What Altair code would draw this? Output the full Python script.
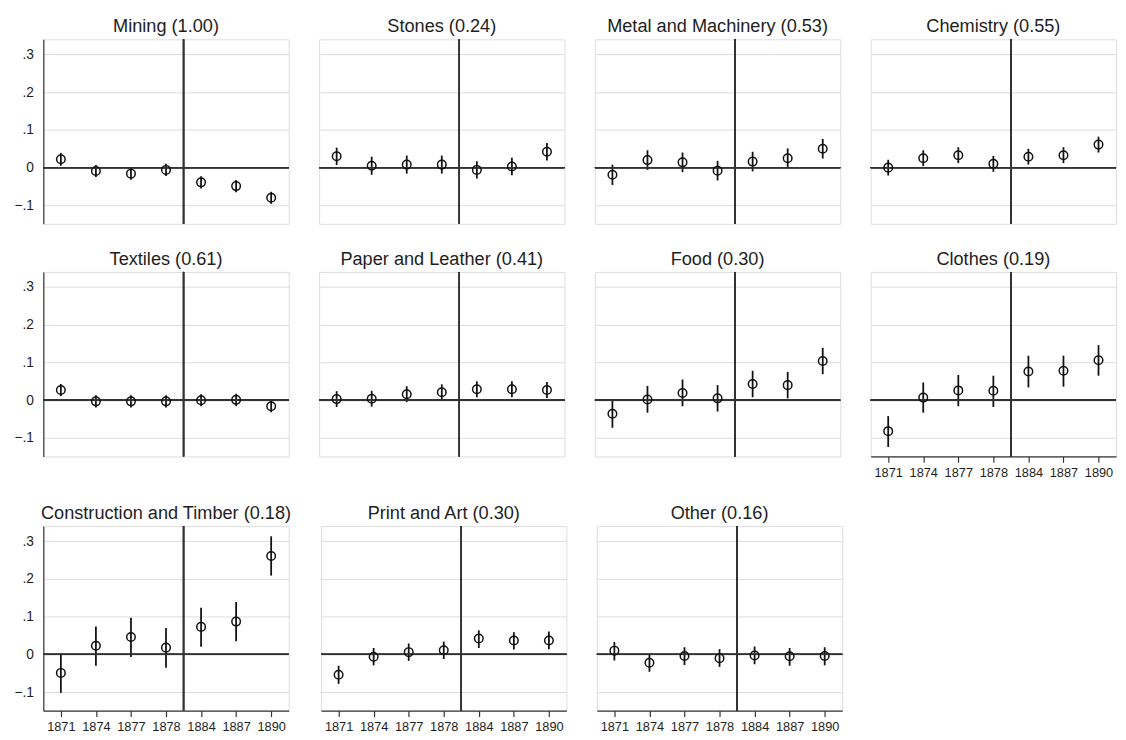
import altair as alt
import pandas as pd

YEARS = ["1871", "1874", "1877", "1878", "1884", "1887", "1890"]

mining_est = [0.022, -0.009, -0.016, -0.006, -0.039, -0.049, -0.080]
mining_lo = [0.005, -0.025, -0.032, -0.022, -0.055, -0.065, -0.096]
mining_hi = [0.039, 0.007, 0.000, 0.010, -0.023, -0.033, -0.064]

stones_est = [0.030, 0.005, 0.008, 0.008, -0.006, 0.003, 0.042]
stones_lo = [0.007, -0.019, -0.016, -0.016, -0.029, -0.020, 0.019]
stones_hi = [0.053, 0.029, 0.032, 0.032, 0.017, 0.026, 0.065]

metal_est = [-0.019, 0.020, 0.014, -0.008, 0.016, 0.025, 0.050]
metal_lo = [-0.046, -0.006, -0.012, -0.034, -0.010, -0.001, 0.024]
metal_hi = [0.008, 0.046, 0.040, 0.018, 0.042, 0.051, 0.076]

chem_est = [0.000, 0.025, 0.033, 0.010, 0.029, 0.033, 0.061]
chem_lo = [-0.021, 0.004, 0.012, -0.011, 0.008, 0.012, 0.040]
chem_hi = [0.021, 0.046, 0.054, 0.031, 0.050, 0.054, 0.082]

textiles_est = [0.027, -0.003, -0.003, -0.003, 0.000, 0.001, -0.016]
textiles_lo = [0.011, -0.019, -0.019, -0.019, -0.016, -0.015, -0.032]
textiles_hi = [0.043, 0.013, 0.013, 0.013, 0.016, 0.017, 0.000]

paper_est = [0.003, 0.004, 0.016, 0.021, 0.029, 0.029, 0.027]
paper_lo = [-0.018, -0.017, -0.005, 0.000, 0.008, 0.008, 0.006]
paper_hi = [0.024, 0.025, 0.037, 0.042, 0.050, 0.050, 0.048]

food_est = [-0.036, 0.002, 0.019, 0.005, 0.043, 0.040, 0.104]
food_lo = [-0.073, -0.033, -0.016, -0.030, 0.008, 0.005, 0.069]
food_hi = [-0.001, 0.038, 0.055, 0.040, 0.078, 0.075, 0.139]

clothes_est = [-0.082, 0.007, 0.026, 0.025, 0.076, 0.078, 0.106]
clothes_lo = [-0.124, -0.033, -0.016, -0.018, 0.034, 0.036, 0.065]
clothes_hi = [-0.042, 0.047, 0.067, 0.065, 0.118, 0.118, 0.146]

constr_est = [-0.049, 0.023, 0.046, 0.018, 0.073, 0.087, 0.261]
constr_lo = [-0.102, -0.030, -0.007, -0.035, 0.020, 0.035, 0.209]
constr_hi = [0.002, 0.074, 0.097, 0.070, 0.124, 0.139, 0.313]

print_est = [-0.054, -0.006, 0.006, 0.011, 0.042, 0.037, 0.037]
print_lo = [-0.078, -0.029, -0.017, -0.012, 0.017, 0.013, 0.014]
print_hi = [-0.030, 0.017, 0.029, 0.034, 0.064, 0.059, 0.061]

other_est = [0.010, -0.022, -0.004, -0.010, -0.003, -0.005, -0.004]
other_lo = [-0.016, -0.046, -0.028, -0.033, -0.026, -0.030, -0.029]
other_hi = [0.033, 0.002, 0.019, 0.014, 0.021, 0.017, 0.019]

FONT = "Liberation Sans"
W, H = 250, 188
LINE = "#333333"
GRID = "#dcdcdc"
TEXT = "#1e1e1e"

year_arr = "[" + ",".join("'%s'" % y for y in YEARS) + "]"


def panel(title, est, lo, hi, show_y, show_x):
    df = pd.DataFrame({"idx": list(range(1, len(YEARS) + 1)), "year": YEARS,
                       "est": est, "lo": lo, "hi": hi})
    xscale = alt.Scale(domain=[0.5, 7.5], nice=False, zero=False)
    yscale = alt.Scale(domain=[-0.149, 0.34], nice=False, zero=False)
    if show_x:
        xaxis = alt.Axis(values=list(range(1, 8)), labelExpr=year_arr + "[datum.value-1]",
                         title=None, grid=False, domain=True, domainColor=LINE, domainWidth=1.2,
                         ticks=True, tickColor=LINE, tickSize=6, tickWidth=1.2,
                         labelFont=FONT, labelFontSize=13, labelColor=TEXT, labelPadding=4)
    else:
        xaxis = None
    yaxis = alt.Axis(values=[-0.1, 0, 0.1, 0.2, 0.3],
                     labelExpr="datum.value == 0 ? '0' : replace(format(datum.value, '.1f'), '0.', '.')",
                     title=None, grid=True, gridColor=GRID, gridWidth=1,
                     domain=show_y, domainColor=LINE, domainWidth=1.2,
                     ticks=False, labels=show_y, labelFont=FONT, labelFontSize=14,
                     labelColor=TEXT, labelPadding=10)
    X = alt.X("idx:Q", scale=xscale, axis=xaxis)
    base = alt.Chart(df)
    ci = base.mark_rule(color="#111111", strokeWidth=1.8).encode(
        x=X, y=alt.Y("lo:Q", scale=yscale, axis=yaxis), y2="hi:Q")
    zero = base.mark_rule(color=LINE, strokeWidth=1.3).encode(
        y=alt.Y(datum=0, scale=yscale, axis=yaxis))
    vline = base.mark_rule(color=LINE, strokeWidth=1.3).encode(
        x=alt.X(datum=4.5, scale=xscale, axis=xaxis))
    pts = base.mark_point(shape="circle", filled=False, size=76, strokeWidth=1.5,
                          color="#111111", opacity=1).encode(
        x=X, y=alt.Y("est:Q", scale=yscale, axis=yaxis))
    return alt.layer(ci, zero, vline, pts).properties(
        width=W, height=H,
        title=alt.TitleParams(text=title, fontSize=18.5, font=FONT, fontWeight="normal",
                              color=TEXT, anchor="middle", frame="group", offset=3))


SP = 27
row1 = alt.hconcat(
    panel("Mining (1.00)", mining_est, mining_lo, mining_hi, True, False),
    panel("Stones (0.24)", stones_est, stones_lo, stones_hi, False, False),
    panel("Metal and Machinery (0.53)", metal_est, metal_lo, metal_hi, False, False),
    panel("Chemistry (0.55)", chem_est, chem_lo, chem_hi, False, False),
    spacing=SP)
row2 = alt.hconcat(
    panel("Textiles (0.61)", textiles_est, textiles_lo, textiles_hi, True, False),
    panel("Paper and Leather (0.41)", paper_est, paper_lo, paper_hi, False, False),
    panel("Food (0.30)", food_est, food_lo, food_hi, False, False),
    panel("Clothes (0.19)", clothes_est, clothes_lo, clothes_hi, False, True),
    spacing=SP)
row3 = alt.hconcat(
    panel("Construction and Timber (0.18)", constr_est, constr_lo, constr_hi, True, True),
    panel("Print and Art (0.30)", print_est, print_lo, print_hi, False, True),
    panel("Other (0.16)", other_est, other_lo, other_hi, False, True),
    spacing=SP)

chart = alt.vconcat(row1, row2, row3, spacing=24).properties(
    padding={"left": 5, "top": 2, "right": 0, "bottom": 0}
).configure_view(stroke=None).configure(background="white")

chart.save("out.html", embed_options={"renderer": "svg", "actions": False})
